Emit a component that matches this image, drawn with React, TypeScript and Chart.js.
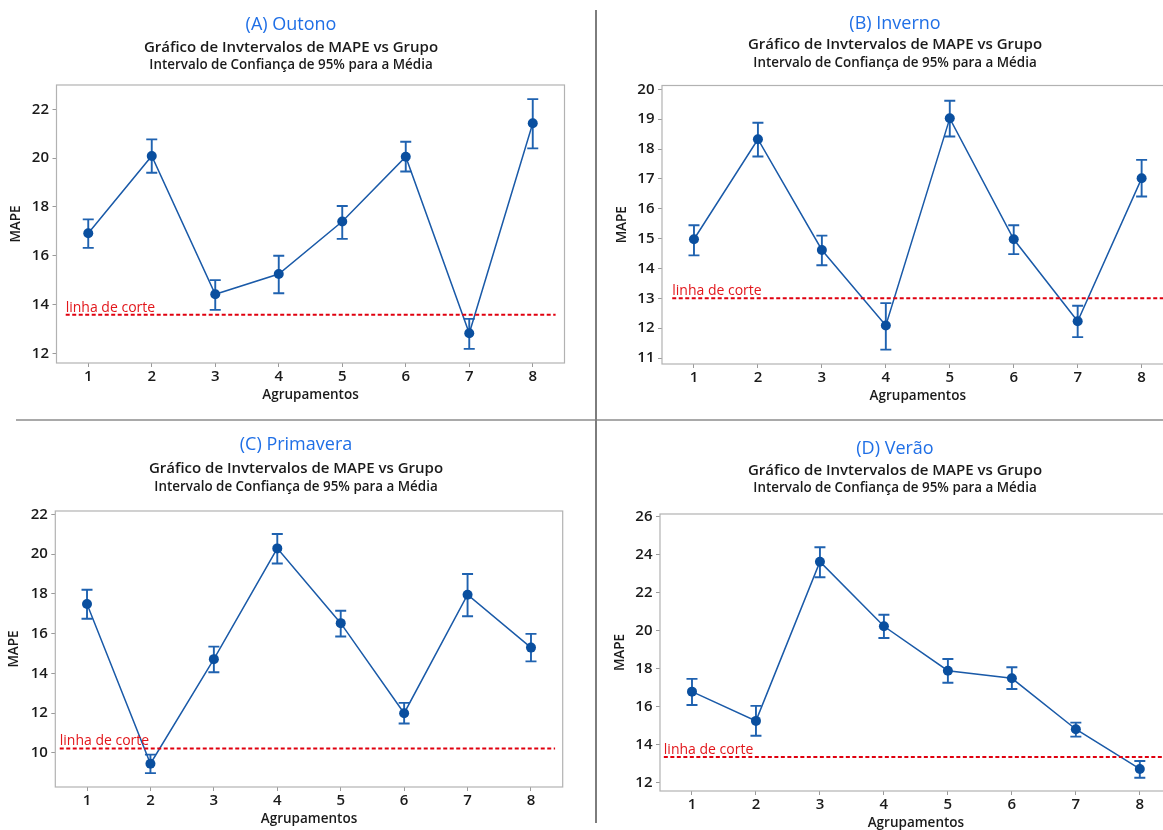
import React, { useEffect, useRef } from "react";
import { Chart, registerables } from "chart.js";

Chart.register(...registerables);

// ---------- DATA ----------
const groups = [1, 2, 3, 4, 5, 6, 7, 8];

const outonoMean = [16.92, 20.09, 14.42, 15.25, 17.4, 20.06, 12.82, 21.43];
const outonoLower = [16.32, 19.4, 13.78, 14.46, 16.69, 19.45, 12.18, 20.4];
const outonoUpper = [17.49, 20.77, 15.0, 16.0, 18.04, 20.67, 13.41, 22.42];
const outonoCut = 13.58;
const outonoTicks = [12, 14, 16, 18, 20, 22];

const invernoMean = [14.98, 18.33, 14.62, 12.09, 19.03, 14.98, 12.23, 17.02];
const invernoLower = [14.44, 17.75, 14.11, 11.28, 18.42, 14.48, 11.7, 16.41];
const invernoUpper = [15.45, 18.88, 15.1, 12.84, 19.62, 15.45, 12.75, 17.64];
const invernoCut = 13.0;
const invernoTicks = [11, 12, 13, 14, 15, 16, 17, 18, 19, 20];

const primaveraMean = [17.49, 9.46, 14.72, 20.29, 16.53, 12.0, 17.96, 15.3];
const primaveraLower = [16.75, 8.99, 14.06, 19.53, 15.86, 11.48, 16.88, 14.61];
const primaveraUpper = [18.21, 9.92, 15.35, 21.01, 17.15, 12.52, 19.0, 15.99];
const primaveraCut = 10.23;
const primaveraTicks = [10, 12, 14, 16, 18, 20, 22];

const veraoMean = [16.79, 15.25, 23.63, 20.23, 17.89, 17.49, 14.81, 12.72];
const veraoLower = [16.09, 14.47, 22.81, 19.61, 17.26, 16.93, 14.42, 12.26];
const veraoUpper = [17.46, 16.04, 24.39, 20.84, 18.51, 18.07, 15.16, 13.14];
const veraoCut = 13.35;
const veraoTicks = [12, 14, 16, 18, 20, 22, 24, 26];

const panelTitles = ["(A) Outono", "(B) Inverno", "(C) Primavera", "(D) Verão"];
const subtitle1 = "Gráfico de Invtervalos de MAPE vs Grupo";
const subtitle2 = "Intervalo de Confiança de 95% para a Média";
const cutLabel = "linha de corte";
const yTitle = "MAPE";
const xTitle = "Agrupamentos";

// ---------- LAYOUT ----------
const FONT = "'Open Sans', 'Noto Sans', sans-serif";

const panels = [
  {
    title: panelTitles[0], mean: outonoMean, lower: outonoLower, upper: outonoUpper, cut: outonoCut,
    yTicks: outonoTicks, yMin: 11.6, yMax: 23.0, cutFrom: 0.645, cutTo: 8.36,
    left: 0, top: 0, width: 590, area: { l: 56.5, r: 564.5, t: 85, b: 363 },
    headX: 291, headY: [25, 48, 65], yTitleX: 15.8,
  },
  {
    title: panelTitles[1], mean: invernoMean, lower: invernoLower, upper: invernoUpper, cut: invernoCut,
    yTicks: invernoTicks, yMin: 10.8, yMax: 20.13, cutFrom: 0.66, cutTo: 8.36,
    left: 596, top: 0, width: 590, area: { l: 66, r: 577.6, t: 85.5, b: 364 },
    headX: 299, headY: [24, 45, 63.5], yTitleX: 26,
  },
  {
    title: panelTitles[2], mean: primaveraMean, lower: primaveraLower, upper: primaveraUpper, cut: primaveraCut,
    yTicks: primaveraTicks, yMin: 8.29, yMax: 22.17, cutFrom: 0.57, cutTo: 8.38,
    left: 0, top: 420, width: 590, area: { l: 55.3, r: 562.7, t: 91, b: 366.7 },
    headX: 296, headY: [25, 49, 67], yTitleX: 14.3,
  },
  {
    title: panelTitles[3], mean: veraoMean, lower: veraoLower, upper: veraoUpper, cut: veraoCut,
    yTicks: veraoTicks, yMin: 11.56, yMax: 26.14, cutFrom: 0.56, cutTo: 8.36,
    left: 596, top: 420, width: 590, area: { l: 64, r: 575.8, t: 94, b: 371 },
    headX: 299, headY: [29, 51, 68.5], yTitleX: 24,
  },
];

const X_AXIS_H = 52;

function Panel({ p }: { p: any }) {
  const ref = useRef<HTMLCanvasElement>(null);
  const height = Math.round(p.area.b + X_AXIS_H);

  useEffect(() => {
    const canvas = ref.current!;
    const headings = {
      id: "headings",
      afterDraw(chart: any) {
        const ctx = chart.ctx;
        ctx.save();
        ctx.textAlign = "center";
        ctx.textBaseline = "middle";
        ctx.fillStyle = "#1f6fe6";
        ctx.font = `18px ${FONT}`;
        ctx.fillText(p.title, p.headX, p.headY[0]);
        ctx.fillStyle = "#1a1a1a";
        ctx.font = `600 15px ${FONT}`;
        ctx.fillText(subtitle1, p.headX, p.headY[1]);
        ctx.font = `600 13.4px ${FONT}`;
        ctx.fillText(subtitle2, p.headX, p.headY[2]);
        ctx.restore();
      },
    };
    const frame = {
      id: "frame",
      afterDraw(chart: any) {
        const { left, top, right, bottom } = chart.chartArea;
        const ctx = chart.ctx;
        ctx.save();
        ctx.strokeStyle = "#b2b2b2";
        ctx.lineWidth = 1.2;
        ctx.strokeRect(left, top, right - left, bottom - top);
        ctx.restore();
      },
    };
    const errorBars = {
      id: "errorBars",
      beforeDatasetsDraw(chart: any) {
        const xs = chart.scales.x;
        const ys = chart.scales.y;
        const ctx = chart.ctx;
        ctx.save();
        ctx.strokeStyle = "#1f62b0";
        ctx.lineWidth = 1.9;
        groups.forEach((g, i) => {
          const px = xs.getPixelForValue(g);
          const pt = ys.getPixelForValue(p.upper[i]);
          const pb = ys.getPixelForValue(p.lower[i]);
          ctx.beginPath();
          ctx.moveTo(px, pt);
          ctx.lineTo(px, pb);
          ctx.moveTo(px - 5.5, pt);
          ctx.lineTo(px + 5.5, pt);
          ctx.moveTo(px - 5.5, pb);
          ctx.lineTo(px + 5.5, pb);
          ctx.stroke();
        });
        ctx.restore();
      },
    };
    const cutText = {
      id: "cutText",
      afterDatasetsDraw(chart: any) {
        const xs = chart.scales.x;
        const ys = chart.scales.y;
        const ctx = chart.ctx;
        ctx.save();
        ctx.fillStyle = "#e2161b";
        ctx.font = `14px ${FONT}`;
        ctx.textAlign = "left";
        ctx.textBaseline = "alphabetic";
        ctx.fillText(cutLabel, xs.getPixelForValue(p.cutFrom), ys.getPixelForValue(p.cut) - 3);
        ctx.restore();
      },
    };

    const chart = new Chart(canvas, {
      type: "line",
      data: {
        datasets: [
          {
            label: cutLabel,
            data: [
              { x: p.cutFrom, y: p.cut },
              { x: p.cutTo, y: p.cut },
            ],
            borderColor: "#e0000f",
            borderWidth: 2,
            borderDash: [4, 2.5],
            pointRadius: 0,
            order: 0,
          },
          {
            label: "MAPE",
            data: groups.map((g, i) => ({ x: g, y: p.mean[i] })),
            borderColor: "#1a5aa8",
            borderWidth: 1.5,
            pointRadius: 5,
            pointBackgroundColor: "#0a4f9f",
            pointBorderColor: "#0a4f9f",
            pointBorderWidth: 0,
            tension: 0,
            order: 1,
          },
        ],
      },
      options: {
        animation: false,
        responsive: false,
        maintainAspectRatio: false,
        events: [],
        layout: { padding: { left: 0, top: p.area.t, right: p.width - p.area.r, bottom: 0 } },
        plugins: { legend: { display: false }, tooltip: { enabled: false }, title: { display: false } },
        scales: {
          x: {
            type: "linear",
            min: 0.5,
            max: 8.5,
            afterBuildTicks: (s: any) => {
              s.ticks = groups.map((v) => ({ value: v }));
            },
            afterFit: (s: any) => {
              s.height = X_AXIS_H;
            },
            grid: { display: true, drawOnChartArea: false, drawTicks: true, tickLength: 4, color: "#9a9a9a" },
            border: { display: false },
            ticks: { color: "#1a1a1a", padding: 1, font: { family: FONT, size: 15, weight: "600" } },
            title: {
              display: true,
              text: xTitle,
              color: "#1a1a1a",
              font: { family: FONT, size: 13.5, weight: "600" },
              padding: { top: 0, bottom: 12 },
            },
          },
          y: {
            type: "linear",
            min: p.yMin,
            max: p.yMax,
            afterBuildTicks: (s: any) => {
              s.ticks = p.yTicks.map((v: number) => ({ value: v }));
            },
            afterFit: (s: any) => {
              s.width = p.area.l;
            },
            grid: { display: true, drawOnChartArea: false, drawTicks: true, tickLength: 4, color: "#9a9a9a" },
            border: { display: false },
            ticks: { color: "#1a1a1a", padding: 3.5, font: { family: FONT, size: 15, weight: "600" } },
            title: {
              display: true,
              text: yTitle,
              color: "#1a1a1a",
              font: { family: FONT, size: 13.5, weight: "600" },
              padding: { top: p.yTitleX - 8.1, bottom: 0 },
            },
          },
        },
      },
      plugins: [frame, errorBars, cutText, headings],
    } as any);
    return () => chart.destroy();
  }, []);

  return (
    <canvas
      ref={ref}
      width={p.width}
      height={height}
      style={{ position: "absolute", left: p.left, top: p.top, width: p.width, height }}
    />
  );
}

export default function App() {
  return (
    <div
      style={{
        position: "fixed",
        left: 0,
        top: 0,
        width: 1163,
        height: 830,
        overflow: "hidden",
        background: "#ffffff",
      }}
    >
      {panels.map((p, i) => (
        <Panel key={i} p={p} />
      ))}
      <div style={{ position: "absolute", left: 16, top: 419, width: 1147, height: 2, background: "#a9a9a9" }} />
      <div style={{ position: "absolute", left: 595, top: 10, width: 2, height: 813, background: "#7d7d7d" }} />
    </div>
  );
}
